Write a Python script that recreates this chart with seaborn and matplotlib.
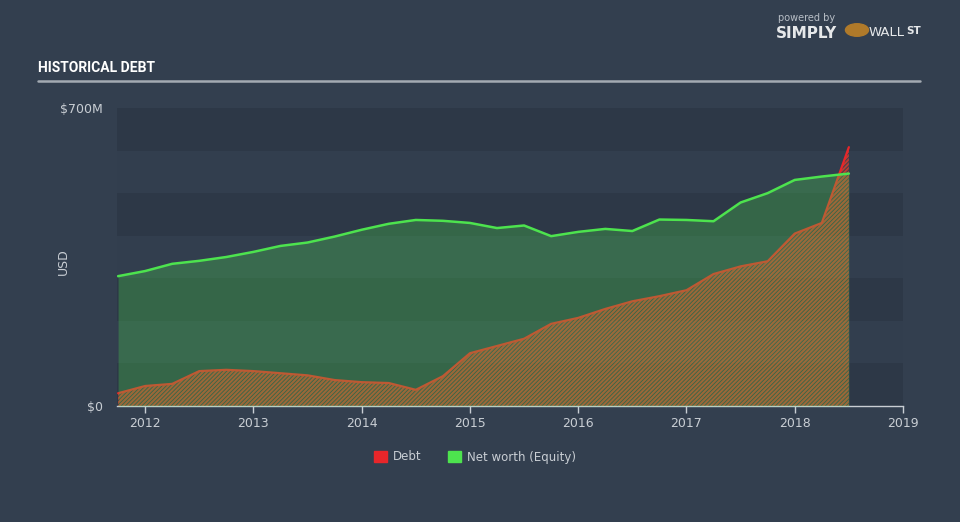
import matplotlib
matplotlib.use("Agg")
import matplotlib.pyplot as plt
import seaborn as sns
import pandas as pd
from matplotlib.patches import Patch, Circle

# ---- data (USD millions, quarterly, decimal years) ----
years = [2011.75, 2012.0, 2012.25, 2012.5, 2012.75, 2013.0, 2013.25, 2013.5,
         2013.75, 2014.0, 2014.25, 2014.5, 2014.75, 2015.0, 2015.25, 2015.5,
         2015.75, 2016.0, 2016.25, 2016.5, 2016.75, 2017.0, 2017.25, 2017.5,
         2017.75, 2018.0, 2018.25, 2018.5]
equity = [305, 317, 334, 341, 350, 362, 376, 384, 398, 414, 428, 437, 435, 430,
          418, 424, 399, 409, 416, 411, 438, 437, 434, 478, 500, 531, 539, 546]
debt = [30, 47, 52, 82, 85, 82, 77, 72, 61, 56, 54, 38, 70, 124, 141, 158,
        193, 207, 228, 246, 258, 272, 310, 328, 340, 405, 430, 608]
tick_years = [2012, 2013, 2014, 2015, 2016, 2017, 2018, 2019]
y_ticks = [0, 700]
y_labels = ["$0", "$700M"]

df = pd.DataFrame({"year": years, "Debt": debt, "Net worth (Equity)": equity})

BG = "#333f4f"
AXBG = "#323e4e"
BAND = "#2d3847"
RED = "#e8262a"
GREEN = "#4de34e"
TXT = "#c9ced4"

sns.set_style("dark", rc={"axes.facecolor": AXBG, "figure.facecolor": BG})
plt.rcParams["font.family"] = ["DejaVu Sans"]
plt.rcParams["hatch.linewidth"] = 1.5

fig = plt.figure(figsize=(9.6, 5.22), dpi=100)
ax = fig.add_axes([117 / 960, 1 - 406 / 522, (903 - 117) / 960, (406 - 108) / 522])
ax.set_facecolor(AXBG)

# alternating bands
for lo in range(0, 700, 200):
    ax.axhspan(lo, lo + 100, color=BAND, lw=0, zorder=0)
ax.axhspan(600, 700, color=BAND, lw=0, zorder=0)

# debt hatched area
ax.fill_between(df["year"], 0, df["Debt"], facecolor="none",
                edgecolor=(232 / 255, 60 / 255, 42 / 255, 0.75), hatch="////////",
                linewidth=0, zorder=1)
sns.lineplot(data=df, x="year", y="Debt", color=RED, lw=1.6, ax=ax, zorder=2,
             estimator=None)
# equity area
ax.fill_between(df["year"], 0, df["Net worth (Equity)"], color=GREEN, alpha=0.27,
                linewidth=0, zorder=3)
sns.lineplot(data=df, x="year", y="Net worth (Equity)", color=GREEN, lw=1.8, ax=ax,
             zorder=4, estimator=None)

ax.set_xlim(2011.74, 2019.0)
ax.set_ylim(0, 700)
ax.set_xticks(tick_years)
ax.set_xticklabels([str(t) for t in tick_years])
ax.set_yticks(y_ticks)
ax.set_yticklabels(y_labels)
ax.set_xlabel("")
ax.set_ylabel("")
ax.tick_params(axis="x", colors=TXT, labelcolor=TXT, length=5, width=1,
               direction="out", pad=3, labelsize=9, bottom=True)
ax.tick_params(axis="y", length=0, pad=10, labelcolor=TXT, labelsize=9)
for s in ["top", "left", "right"]:
    ax.spines[s].set_visible(False)
ax.spines["bottom"].set_visible(True)
ax.spines["bottom"].set_color(TXT)
ax.spines["bottom"].set_linewidth(1)
ax.grid(False)

fig.text(63 / 960, 1 - 262 / 522, "USD", rotation=90, color=TXT, fontsize=9,
         ha="center", va="center")

# title and rule
fig.text(38 / 960, 1 - 68 / 522, "HISTORICAL DEBT", color="white", fontsize=10,
         fontweight="bold", family=["Roboto", "DejaVu Sans"],
         ha="left", va="center")
fig.add_artist(plt.Line2D([38 / 960, 920 / 960], [1 - 81 / 522, 1 - 81 / 522],
                          color="#a3aab2", lw=1.8, transform=fig.transFigure))

# logo
fig.text(778 / 960, 1 - 18 / 522, "powered by", color="#b8bec6", fontsize=7,
         ha="left", va="center")
fig.text(776 / 960, 1 - 33 / 522, "SIMPLY", color="#e6e8ea", fontsize=11,
         fontweight="bold", ha="left", va="center")
fig.add_artist(Circle((857 / 960, 1 - 30 / 522), 0.012, color="#b07a2a",
                      transform=fig.transFigure))
fig.text(869 / 960, 1 - 33 / 522, "WALL", color="#e6e8ea", fontsize=9.5,
         ha="left", va="center")
fig.text(906 / 960, 1 - 31 / 522, "ST", color="#e6e8ea", fontsize=7.5,
         fontweight="bold", ha="left", va="center")

# legend
handles = [Patch(color=RED, label="Debt"), Patch(color=GREEN, label="Net worth (Equity)")]
leg = fig.legend(handles=handles, loc="center", bbox_to_anchor=(475 / 960, 1 - 457 / 522),
                 ncol=2, frameon=False, fontsize=8.5, handlelength=1.1,
                 handleheight=1.1, columnspacing=2.2, handletextpad=0.5)
for t in leg.get_texts():
    t.set_color(TXT)

fig.savefig("out.png", dpi=100, facecolor=BG)
